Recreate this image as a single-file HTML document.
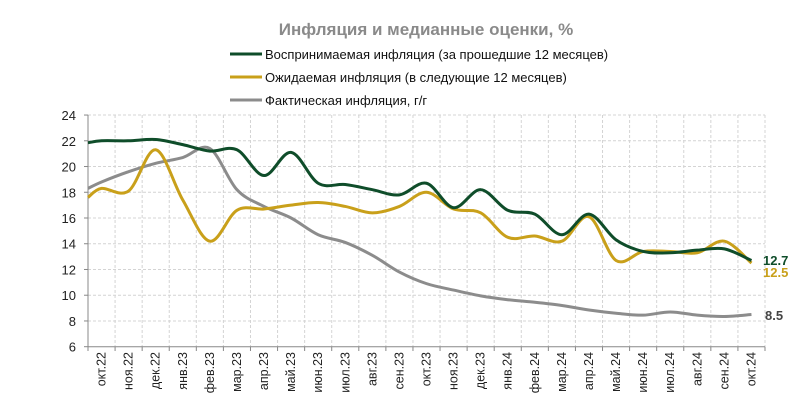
<!DOCTYPE html>
<html><head><meta charset="utf-8"><style>
body{margin:0;background:#fff;width:800px;height:413px;overflow:hidden}
svg{display:block;font-family:"Liberation Sans","DejaVu Sans",sans-serif}
</style></head><body>
<svg id="s" width="800" height="413" viewBox="0 0 800 413">
<text x="426" y="35" text-anchor="middle" font-size="17" font-weight="bold" fill="#8a8a8a">Инфляция и медианные оценки, %</text>
<line x1="230" y1="54" x2="262" y2="54" stroke="#0f4d2a" stroke-width="3"/>
<text x="265" y="59" font-size="13" fill="#111">Воспринимаемая инфляция (за прошедшие 12 месяцев)</text>
<line x1="230" y1="77" x2="262" y2="77" stroke="#c9a01a" stroke-width="3"/>
<text x="265" y="82" font-size="13" fill="#111">Ожидаемая инфляция (в следующие 12 месяцев)</text>
<line x1="230" y1="100" x2="262" y2="100" stroke="#8c8c8c" stroke-width="3"/>
<text x="265" y="105" font-size="13" fill="#111">Фактическая инфляция, г/г</text>
<g id="grid"></g>
<g id="series"></g>
<text x="763" y="265" font-size="13" font-weight="bold" fill="#0f4d2a">12.7</text>
<text x="763" y="277" font-size="13" font-weight="bold" fill="#c9a01a">12.5</text>
<text x="765" y="320" font-size="13" font-weight="bold" fill="#444">8.5</text>
</svg>
<script>
var NS="http://www.w3.org/2000/svg";
function el(t,a,p,txt){var e=document.createElementNS(NS,t);for(var k in a)e.setAttribute(k,a[k]);if(txt)e.textContent=txt;p.appendChild(e);return e;}
var g=document.getElementById("grid"),sg=document.getElementById("series");
function Y(v){return 346.7-(v-6)*12.87;}
var x0=88,step=27.08;
for(var v=8;v<=24;v+=2)el("line",{x1:x0,x2:765,y1:Y(v),y2:Y(v),stroke:"#d4d4d4","stroke-dasharray":"3,2"},g);
for(var i=1;i<=25;i++)el("line",{x1:x0+i*step,x2:x0+i*step,y1:Y(24),y2:346.7,stroke:"#d4d4d4","stroke-dasharray":"3,2"},g);
el("line",{x1:x0,x2:x0,y1:Y(24),y2:346.7,stroke:"#888"},g);
el("line",{x1:x0,x2:765,y1:346.7,y2:346.7,stroke:"#888"},g);
for(var v=6;v<=24;v+=2){el("line",{x1:84,x2:88,y1:Y(v),y2:Y(v),stroke:"#888"},g);el("text",{x:76,y:Y(v)+5,"text-anchor":"end","font-size":"13",fill:"#222"},g,String(v));}
var labs=["окт.22","ноя.22","дек.22","янв.23","фев.23","мар.23","апр.23","май.23","июн.23","июл.23","авг.23","сен.23","окт.23","ноя.23","дек.23","янв.24","фев.24","мар.24","апр.24","май.24","июн.24","июл.24","авг.24","сен.24","окт.24"];
for(var i=0;i<=25;i++)el("line",{x1:x0+i*step,x2:x0+i*step,y1:346.7,y2:351,stroke:"#888"},g);
labs.forEach(function(l,i){var cx=x0+step*(i+0.5)+4;el("text",{x:0,y:0,transform:"translate("+cx+",352) rotate(-90)","text-anchor":"end","font-size":"12.5",fill:"#222"},g,l);});
var green=[21.85,22.0,22.0,22.1,21.7,21.2,21.3,19.3,21.1,18.7,18.6,18.2,17.8,18.7,16.8,18.2,16.6,16.3,14.7,16.3,14.3,13.4,13.3,13.5,13.6,12.7];
var yel=[17.6,18.3,18.1,21.3,17.4,14.2,16.6,16.7,17.0,17.2,16.9,16.4,16.9,18.0,16.7,16.4,14.5,14.6,14.2,16.1,12.7,13.4,13.4,13.3,14.2,12.5];
var gray=[18.3,18.8,19.6,20.25,20.7,21.4,18.2,16.9,16.0,14.7,14.1,13.1,11.8,10.9,10.4,9.95,9.65,9.45,9.2,8.85,8.6,8.45,8.7,8.45,8.35,8.5];
function pts(d){var p=[[88,Y(d[0])]];for(var i=1;i<d.length;i++)p.push([x0+step*(i-0.5),Y(d[i])]);return p;}
function path(p){var s="M"+p[0][0]+","+p[0][1];for(var i=0;i<p.length-1;i++){var a=p[i-1]||p[i],b=p[i],c=p[i+1],d=p[i+2]||c;
s+=" C"+(b[0]+(c[0]-a[0])/6)+","+(b[1]+(c[1]-a[1])/6)+" "+(c[0]-(d[0]-b[0])/6)+","+(c[1]-(d[1]-b[1])/6)+" "+c[0]+","+c[1];}return s;}
[[gray,"#8c8c8c"],[yel,"#c9a01a"],[green,"#0f4d2a"]].forEach(function(q){el("path",{d:path(pts(q[0])),fill:"none",stroke:q[1],"stroke-width":"3","stroke-linejoin":"round"},sg);});
</script>
</body></html>
